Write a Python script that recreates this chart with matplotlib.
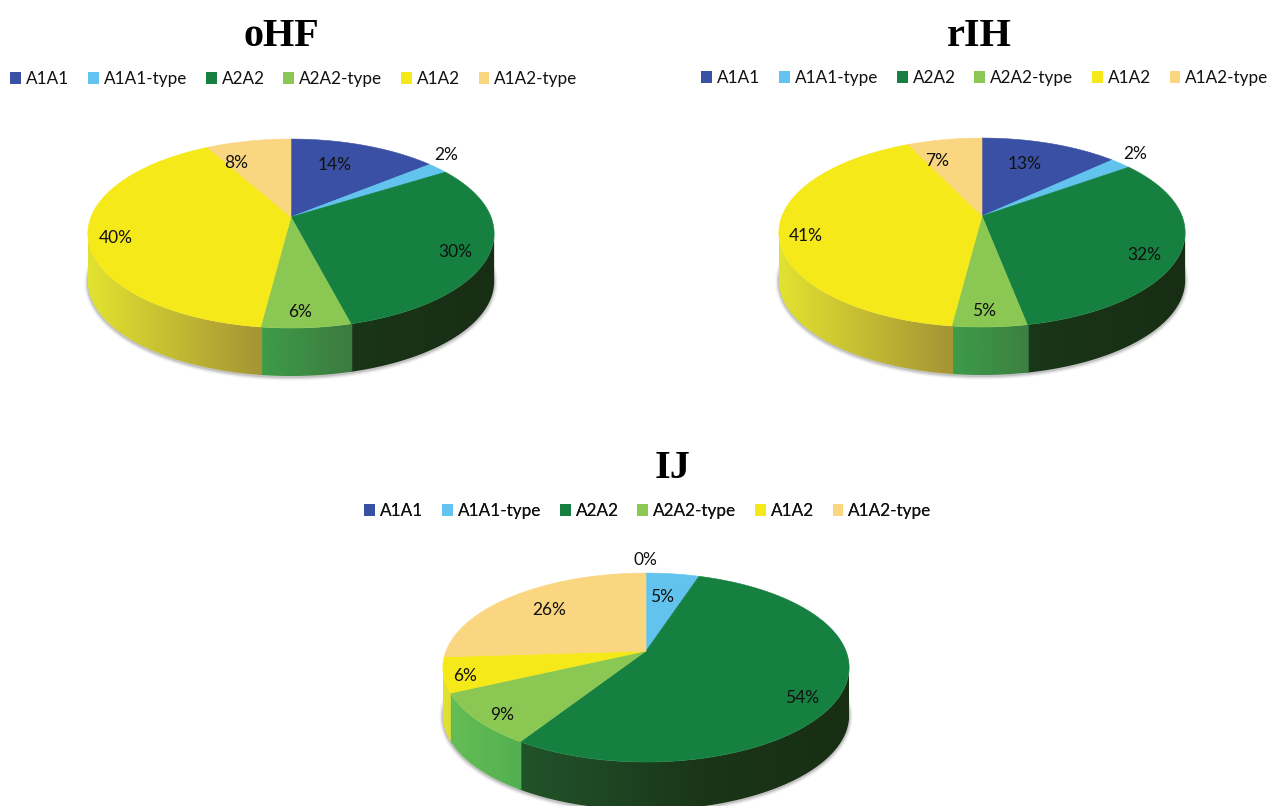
import numpy as np
import matplotlib
matplotlib.use('Agg')
import matplotlib.pyplot as plt
from matplotlib.patches import Patch, Polygon

categories = ['A1A1', 'A1A1-type', 'A2A2', 'A2A2-type', 'A1A2', 'A1A2-type']
ohf_values = [14, 2, 30, 6, 40, 8]
rih_values = [13, 2, 32, 5, 41, 7]
ij_values = [0, 5, 54, 9, 6, 26]

colors = ['#3A50A4', '#62C4EE', '#168040', '#8BC753', '#F5E91A', '#FBD680']

# side wall colours by position along the pie width, left to right
wall_stops = [-1.0, -0.2, 0.3, 1.0]
wall_colors = {
    2: [(37, 95, 46), (30, 70, 35), (26, 53, 24), (24, 46, 20)],
    3: [(102, 190, 85), (61, 160, 75), (61, 122, 63), (50, 90, 50)],
    4: [(225, 225, 48), (168, 152, 53), (140, 125, 50), (110, 100, 40)],
}

WIDTH = 200.0
HEIGHT = 91.6
TILT = 0.175
DEPTH = 48


def project(theta, cx, cy):
    # clockwise angle from twelve o'clock, tilted disc with a little perspective
    s = np.sin(theta)
    c = np.cos(theta)
    w = 1 + TILT * c
    return cx + WIDTH * s / w, cy - HEIGHT * c / w


def draw_wall(ax, idx, start, end, cx, cy):
    # only the near side of the disc, from one widest point to the other,
    # with a small overlap so no seam shows between slices
    th = np.linspace(start - 0.006, end + 0.006, 300)
    th = th[np.cos(th) <= -TILT]
    if len(th) < 2:
        return
    x, y = project(th, cx, cy)
    poly = np.r_[np.c_[x, y], np.c_[x[::-1], y[::-1] + DEPTH]]

    xs = np.linspace(x.min(), x.max(), 256)
    stops = np.array(wall_colors[idx]) / 255
    grad = np.stack([np.interp((xs - cx) / WIDTH, wall_stops, stops[:, k]) for k in range(3)], axis=-1)
    im = ax.imshow(grad[np.newaxis, :, :], extent=(x.min(), x.max(), y.max() + DEPTH, y.min()),
                   aspect='auto', interpolation='bilinear', zorder=2)
    im.set_clip_path(Polygon(poly, transform=ax.transData))


def draw_pie(ax, values, cx, cy, label_pos):
    edges = np.cumsum([0] + values) / 100 * 2 * np.pi

    # soft shadow under the disc
    th = np.linspace(np.pi / 2, 3 * np.pi / 2, 200)
    sx, sy = project(th, cx, cy)
    for lw, alpha in [(5, 0.10), (3, 0.16), (1.5, 0.25)]:
        ax.plot(sx, sy + DEPTH + 1, color='#777777', lw=lw, alpha=alpha, zorder=1,
                solid_capstyle='round')

    for i in range(len(values)):
        if i in wall_colors and values[i] > 0:
            draw_wall(ax, i, edges[i], edges[i + 1], cx, cy)

    # top face
    for i, v in enumerate(values):
        th = np.linspace(edges[i], edges[i + 1], max(int(v * 4), 2))
        x, y = project(th, cx, cy)
        ax.fill(np.r_[cx, x], np.r_[cy, y], facecolor=colors[i], edgecolor=colors[i],
                lw=1.5 if v == 0 else 0.4, zorder=3)

    for v, (lx, ly) in zip(values, label_pos):
        ax.text(lx, ly + 2, f'{v}%', ha='center', va='center', fontsize=12.5,
                family='Lato', color='#111111', zorder=4)


def draw_legend(ax, x, y):
    handles = [Patch(facecolor=c, edgecolor='none') for c in colors]
    leg = ax.legend(handles, categories, ncol=6, loc='center', bbox_to_anchor=(x, y),
                    bbox_transform=ax.transData, frameon=False, prop={'family': 'Lato', 'size': 12.3},
                    handlelength=0.62, handleheight=0.62, handletextpad=0.3,
                    columnspacing=1.1, borderpad=0, borderaxespad=0, labelcolor='#111111')
    ax.add_artist(leg)


fig = plt.figure(figsize=(12.67, 8.06), dpi=100)
ax = fig.add_axes([0, 0, 1, 1])

title_font = dict(family='Liberation Serif', weight='bold', fontsize=29, ha='center', va='center', color='black')
ax.text(281, 36, 'oHF', **title_font)
ax.text(979, 36, 'rIH', **title_font)
ax.text(673, 469, 'IJ', **title_font)

draw_legend(ax, 294, 79)
draw_legend(ax, 985, 78)
draw_legend(ax, 648, 511)

draw_pie(ax, ohf_values, 291, 217,
         [(335, 163), (446, 153), (455, 250), (300, 310), (116, 236), (236, 161)])
draw_pie(ax, rih_values, 982, 216,
         [(1025, 162), (1135, 152), (1144, 253), (984, 309), (806, 234), (937, 159)])
draw_pie(ax, ij_values, 646, 651,
         [(645, 558), (662, 595), (802, 696), (502, 713), (465, 674), (549, 608)])

# imshow resets the limits, so set them last
ax.set_xlim(0, 1267)
ax.set_ylim(806, 0)
ax.axis('off')

fig.savefig('out.png', dpi=100)
